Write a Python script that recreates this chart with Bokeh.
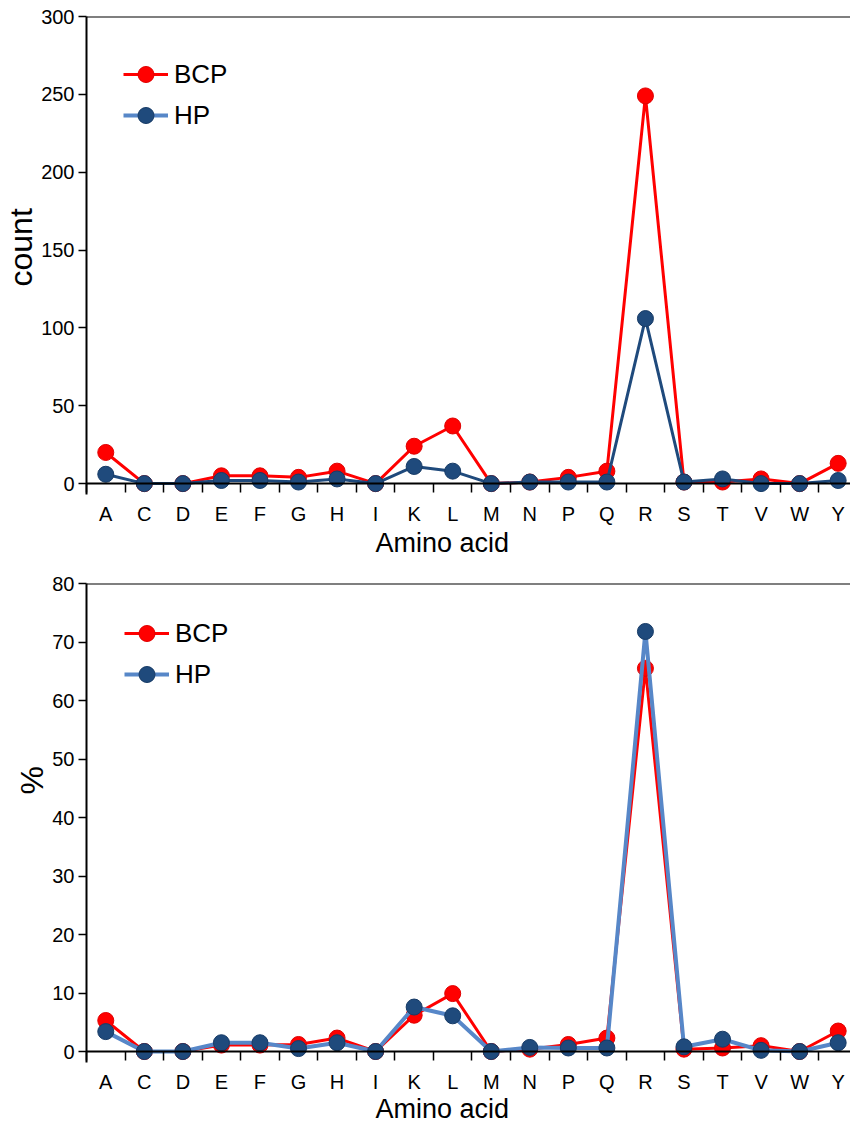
from bokeh.plotting import figure
from bokeh.models import (Range1d, FixedTicker, Span, Legend, LegendItem, Title,
                          ColumnDataSource)
from bokeh.layouts import column
from bokeh.embed import file_html
from bokeh.resources import INLINE

# ---------------- data ----------------
amino_acids = ["A", "C", "D", "E", "F", "G", "H", "I", "K", "L",
               "M", "N", "P", "Q", "R", "S", "T", "V", "W", "Y"]
bcp_count = [20, 0, 0, 5, 5, 4, 8, 0, 24, 37, 0, 1, 4, 8, 249, 1, 1, 3, 0, 13]
hp_count = [6, 0, 0, 2, 2, 1, 3, 0, 11, 8, 0, 1, 1, 1, 106, 1, 3, 0, 0, 2]
bcp_pct = [5.3, 0, 0, 1.1, 1.1, 1.2, 2.3, 0, 6.2, 9.9, 0, 0.4, 1.2, 2.3, 65.5, 0.4, 0.6, 1.0, 0, 3.5]
hp_pct = [3.4, 0, 0, 1.5, 1.5, 0.5, 1.5, 0, 7.6, 6.1, 0, 0.7, 0.6, 0.6, 71.8, 0.8, 2.1, 0.2, 0, 1.5]
count_ticks = [0, 50, 100, 150, 200, 250, 300]
pct_ticks = [0, 10, 20, 30, 40, 50, 60, 70, 80]
series_names = ["BCP", "HP"]
x_title = "Amino acid"

FONT = "Liberation Sans"
RED = "#FF0000"
NAVY = "#1F4A7C"
LIGHT = "#5787C8"


def make_panel(bcp, hp, ymin, ymax, yticks, ylabel, ylabel_offset, hp_line_color, hp_line_width,
               height, border_top, border_bottom, legend_loc, zero_gap, xtitle_standoff):
    xs = list(range(len(amino_acids)))
    src = ColumnDataSource(dict(x=xs, bcp=bcp, hp=hp))
    p = figure(width=850, height=height, output_backend="svg", toolbar_location=None,
               x_range=Range1d(-0.5, 19.32), y_range=Range1d(ymin, ymax),
               min_border_left=86, min_border_right=0,
               min_border_top=border_top, min_border_bottom=border_bottom)
    p.xgrid.visible = False
    p.ygrid.visible = False
    p.outline_line_color = None
    p.background_fill_color = "white"
    p.border_fill_color = "white"

    # x axis (categories centred between boundary ticks)
    xa = p.xaxis[0]
    xa.ticker = FixedTicker(ticks=xs, minor_ticks=[i - 0.5 for i in range(len(xs) + 1)])
    xa.major_label_overrides = {i: a for i, a in enumerate(amino_acids)}
    xa.major_tick_out = 0
    xa.major_tick_in = 0
    xa.minor_tick_in = zero_gap
    xa.minor_tick_out = -2
    xa.minor_tick_line_color = "black"
    xa.minor_tick_line_width = 1.5
    xa.axis_line_color = None
    xa.major_label_text_font = FONT
    xa.major_label_text_font_size = "20px"
    xa.major_label_text_color = "black"
    xa.major_label_standoff = 8

    # y axis
    ya = p.yaxis[0]
    ya.ticker = FixedTicker(ticks=yticks)
    ya.major_tick_out = 8
    ya.major_tick_in = 0
    ya.major_tick_line_width = 1.5
    ya.major_tick_line_color = "black"
    ya.minor_tick_out = 0
    ya.minor_tick_in = 0
    ya.axis_line_width = 2
    ya.axis_line_color = "black"
    ya.major_label_text_font = FONT
    ya.major_label_text_font_size = "20px"
    ya.major_label_text_color = "black"
    ya.major_label_standoff = 4

    # top border and zero line (x axis line)
    p.add_layout(Span(location=ymax, dimension="width", line_color="black", line_width=2))
    p.add_layout(Span(location=0, dimension="width", line_color="black", line_width=2))

    # series
    bl = p.line("x", "bcp", source=src, line_color=RED, line_width=3)
    bc = p.scatter("x", "bcp", source=src, size=16, fill_color=RED, line_color="#E00000")
    hl = p.line("x", "hp", source=src, line_color=hp_line_color, line_width=hp_line_width)
    hc = p.scatter("x", "hp", source=src, size=16, fill_color=NAVY, line_color="#173B66")
    # legend line sample (light blue as in the original legend)
    legend_line = p.line(x=[0], y=[float("nan")], line_color=LIGHT, line_width=4)

    legend = Legend(items=[LegendItem(label=series_names[0], renderers=[bl, bc]),
                           LegendItem(label=series_names[1], renderers=[legend_line, hc])],
                    location=legend_loc, orientation="vertical",
                    glyph_width=45, glyph_height=40, label_height=40, spacing=1,
                    padding=0, margin=0, label_standoff=6,
                    label_text_font=FONT, label_text_font_size="26px",
                    label_text_color="black",
                    border_line_color=None, background_fill_alpha=0)
    p.add_layout(legend)

    p.add_layout(Title(text=x_title, align="left", offset=289, standoff=xtitle_standoff,
                       text_font=FONT, text_font_size="27px", text_font_style="normal",
                       text_color="black"), "below")
    p.add_layout(Title(text=ylabel, align="left", offset=ylabel_offset, standoff=0,
                       text_font=FONT, text_font_size="32px", text_font_style="normal",
                       text_color="black"), "left")
    return p


p1 = make_panel(bcp_count, hp_count, -7, 300, count_ticks, "count", 208, NAVY, 3,
                height=565, border_top=16, border_bottom=71,
                legend_loc=(37, 359), zero_gap=11, xtitle_standoff=-4)
p2 = make_panel(bcp_pct, hp_pct, -1.88, 80, pct_ticks, "%", 268, LIGHT, 4,
                height=558, border_top=18, border_bottom=61,
                legend_loc=(38, 368), zero_gap=11, xtitle_standoff=-7)

layout = column(p1, p2, spacing=0)
open("out.html", "w").write(file_html(layout, INLINE))
